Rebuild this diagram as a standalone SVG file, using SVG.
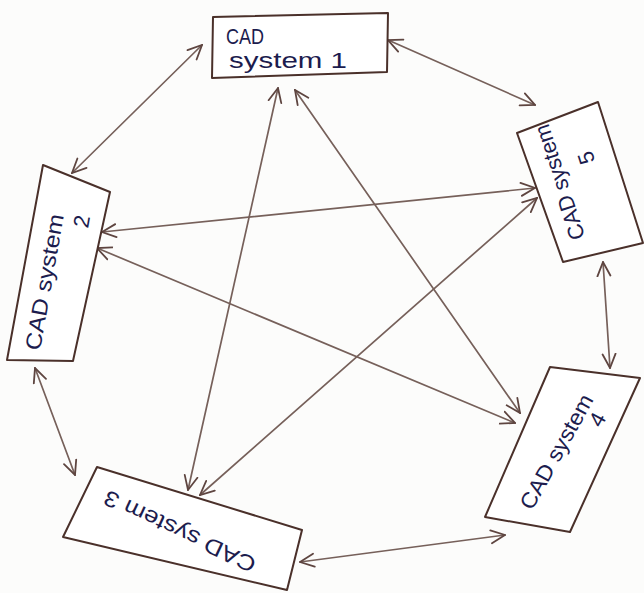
<svg xmlns="http://www.w3.org/2000/svg" width="644" height="593" viewBox="0 0 644 593">
  <defs>
    <style>
      .box { fill: #ffffff; stroke: #4a302a; stroke-width: 2; stroke-linejoin: round; }
      .lbl { font-family: "Liberation Sans", "DejaVu Sans", sans-serif; font-size: 22px; fill: #1c1c4e; }
      .edge { fill: none; stroke: #76605a; stroke-width: 1.7; stroke-linecap: round;
              marker-start: url(#arr); marker-end: url(#arr); }
    </style>
    <marker id="arr" viewBox="0 0 16 16" refX="15" refY="8" markerWidth="16" markerHeight="16"
            markerUnits="userSpaceOnUse" orient="auto-start-reverse">
      <path d="M1,1.5 L15,8 L1,14.5" fill="none" stroke="#5e4540" stroke-width="1.8" stroke-linecap="round"/>
    </marker>
  </defs>

  <rect width="644" height="593" fill="#fcfcfb"/>

  <!-- connectors: every system linked to every other -->
  <g id="connectors">
    <line class="edge" x1="72" y1="173" x2="202" y2="45"/>
    <line class="edge" x1="388" y1="40" x2="535" y2="105"/>
    <line class="edge" x1="278" y1="88" x2="188" y2="490"/>
    <line class="edge" x1="295" y1="90" x2="520" y2="413"/>
    <line class="edge" x1="102" y1="232" x2="535" y2="188"/>
    <line class="edge" x1="97" y1="248" x2="515" y2="423"/>
    <line class="edge" x1="537" y1="198" x2="200" y2="495"/>
    <line class="edge" x1="35" y1="368" x2="75" y2="475"/>
    <line class="edge" x1="603" y1="262" x2="610" y2="368"/>
    <line class="edge" x1="300" y1="562" x2="505" y2="535"/>
  </g>

  <g id="cad1">
    <polygon class="box" points="213,17 388,13 387,72 212,78"/>
    <text class="lbl" x="226" y="44" textLength="38" lengthAdjust="spacingAndGlyphs">CAD</text>
    <text class="lbl" x="229" y="68" textLength="118" lengthAdjust="spacingAndGlyphs">system 1</text>
  </g>

  <g id="cad2">
    <polygon class="box" points="43,165 110,192 73,361 7,360"/>
    <g transform="translate(45,282) rotate(-80)">
      <text class="lbl" x="0" y="7" text-anchor="middle" textLength="138" lengthAdjust="spacingAndGlyphs">CAD system</text>
      <text class="lbl" x="66" y="33" text-anchor="middle">2</text>
    </g>
  </g>

  <g id="cad3">
    <polygon class="box" points="97,467 302,530 287,590 63,537"/>
    <g transform="translate(180,531) rotate(205)">
      <text class="lbl" x="0" y="7" text-anchor="middle" textLength="165" lengthAdjust="spacingAndGlyphs">CAD system 3</text>
    </g>
  </g>

  <g id="cad4">
    <polygon class="box" points="550,367 640,378 570,532 485,517"/>
    <g transform="translate(557,452) rotate(-61)">
      <text class="lbl" x="0" y="7" text-anchor="middle" textLength="128" lengthAdjust="spacingAndGlyphs">CAD system</text>
      <text class="lbl" x="48" y="27" text-anchor="middle">4</text>
    </g>
  </g>

  <g id="cad5">
    <polygon class="box" points="517,133 598,102 643,243 563,262"/>
    <g transform="translate(560,182) rotate(-108)">
      <text class="lbl" x="0" y="7" text-anchor="middle" textLength="120" lengthAdjust="spacingAndGlyphs">CAD system</text>
      <text class="lbl" x="15" y="40" text-anchor="middle">5</text>
    </g>
  </g>
</svg>
